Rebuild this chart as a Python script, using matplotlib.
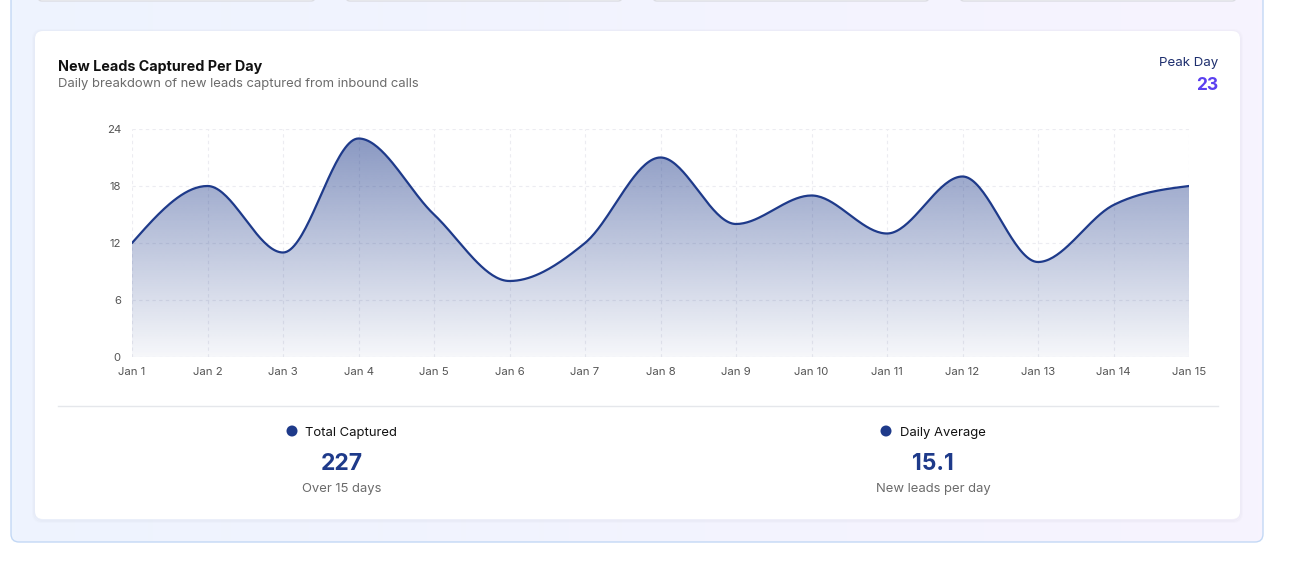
import numpy as np
import matplotlib
matplotlib.use("Agg")
import matplotlib.pyplot as plt
from matplotlib.patches import FancyBboxPatch, Circle
from matplotlib.colors import to_rgb

plt.rcParams['font.family'] = ['Inter', 'DejaVu Sans']

# ---- data ----
days = ["Jan 1", "Jan 2", "Jan 3", "Jan 4", "Jan 5", "Jan 6", "Jan 7", "Jan 8",
        "Jan 9", "Jan 10", "Jan 11", "Jan 12", "Jan 13", "Jan 14", "Jan 15"]
leads = [12, 18, 11, 23, 15, 8, 12, 21, 14, 17, 13, 19, 10, 16, 18]
y_ticks = [0, 6, 12, 18, 24]
total_captured = sum(leads)
daily_avg = total_captured / len(leads)
peak_day = max(leads)

W, H = 1304, 561
fig = plt.figure(figsize=(W / 100, H / 100), dpi=100)
fig.patch.set_facecolor("white")

# ---- background (pixel coordinates) ----
bg = fig.add_axes([0, 0, 1, 1], zorder=-5)
bg.set_xlim(0, W)
bg.set_ylim(H, 0)
bg.axis("off")

panel = FancyBboxPatch((11, -30), 1252, 572, boxstyle="round,pad=0,rounding_size=8",
                       facecolor="none", edgecolor="#c3d8f5", linewidth=1.0, zorder=2)
bg.add_patch(panel)
c1 = np.array(to_rgb("#eef4fe"))
c2 = np.array(to_rgb("#f7f3fe"))
t = np.linspace(0, 1, 256)
grad = (c1[None, :] * (1 - t[:, None]) + c2[None, :] * t[:, None])[None, :, :]
im = bg.imshow(grad, extent=[11, 1263, 542, -30], aspect="auto", zorder=1)
im.set_clip_path(FancyBboxPatch((11, -30), 1252, 572, boxstyle="round,pad=0,rounding_size=8",
                                transform=bg.transData))

# top cards (partially visible)
for x0, x1 in [(38, 315), (346, 622), (653, 929), (960, 1236)]:
    bg.add_patch(FancyBboxPatch((x0, -20), x1 - x0, 21, boxstyle="round,pad=0,rounding_size=4",
                                facecolor="white", edgecolor="#dcdde3", linewidth=1.0, zorder=3))

# main white card with soft shadow
for i, a in enumerate([0.025, 0.02, 0.015]):
    bg.add_patch(FancyBboxPatch((35 - i, 31 - i + 1), 1205 + 2 * i, 488 + 2 * i,
                                boxstyle="round,pad=0,rounding_size=9",
                                facecolor="none", edgecolor=(0.3, 0.3, 0.45, a), linewidth=1.5, zorder=3))
bg.add_patch(FancyBboxPatch((35, 31), 1205, 488, boxstyle="round,pad=0,rounding_size=8",
                            facecolor="white", edgecolor="none", zorder=4))

# separator line
bg.plot([58, 1218], [406, 406], color="#e5e7eb", linewidth=1.0, zorder=5)

# legend dots
bg.add_patch(Circle((292, 431), 5.5, facecolor="#1e3a8a", edgecolor="none", zorder=6))
bg.add_patch(Circle((886, 431), 5.5, facecolor="#1e3a8a", edgecolor="none", zorder=6))


def ftxt(x, y, s, **kw):
    fig.text(x / W, 1 - y / H, s, **kw)


ftxt(58, 67, "New Leads Captured Per Day", fontsize=10.3, fontweight="bold", color="#111111",
     ha="left", va="center")
ftxt(58, 84, "Daily breakdown of new leads captured from inbound calls", fontsize=9.4,
     color="#6b6b6b", ha="left", va="center")
ftxt(1218, 63, "Peak Day", fontsize=9.6, color="#1e2f6e", ha="right", va="center")
ftxt(1218, 86, f"{peak_day}", fontsize=12.5, fontweight="bold", color="#5b40f0", ha="right", va="center")

ftxt(305, 433, "Total Captured", fontsize=9.4, color="#111111", ha="left", va="center")
ftxt(342, 464, f"{total_captured}", fontsize=16.5, fontweight="bold", color="#1e3a8a",
     ha="center", va="center")
ftxt(342, 489, "Over 15 days", fontsize=9.4, color="#6b6b6b", ha="center", va="center")

ftxt(900, 433, "Daily Average", fontsize=9.4, color="#111111", ha="left", va="center")
ftxt(933, 464, f"{daily_avg:.1f}", fontsize=16.5, fontweight="bold", color="#1e3a8a",
     ha="center", va="center")
ftxt(933, 489, "New leads per day", fontsize=9.4, color="#6b6b6b", ha="center", va="center")

# ---- chart axes ----
left, right, top, bottom = 132, 1189, 129, 357
ax = fig.add_axes([left / W, 1 - bottom / H, (right - left) / W, (bottom - top) / H], zorder=5)
ax.set_facecolor("none")

x = np.arange(len(leads), dtype=float)
y = np.array(leads, dtype=float)


def monotone_x(xs, ys, n=40):
    h = np.diff(xs)
    s = np.diff(ys) / h
    m = np.zeros_like(ys)
    for i in range(1, len(ys) - 1):
        h0, h1 = h[i - 1], h[i]
        s0, s1 = s[i - 1], s[i]
        p = (s0 * h1 + s1 * h0) / (h0 + h1)
        m[i] = (np.sign(s0) + np.sign(s1)) * min(abs(s0), abs(s1), 0.5 * abs(p))
    m[0] = (3 * s[0] - m[1]) / 2 if len(ys) > 2 else s[0]
    m[-1] = (3 * s[-1] - m[-2]) / 2 if len(ys) > 2 else s[-1]
    X, Y = [], []
    for i in range(len(ys) - 1):
        tt = np.linspace(0, 1, n, endpoint=(i == len(ys) - 2))
        hh = h[i]
        h00 = 2 * tt**3 - 3 * tt**2 + 1
        h10 = tt**3 - 2 * tt**2 + tt
        h01 = -2 * tt**3 + 3 * tt**2
        h11 = tt**3 - tt**2
        X.append(xs[i] + tt * hh)
        Y.append(h00 * ys[i] + h10 * hh * m[i] + h01 * ys[i + 1] + h11 * hh * m[i + 1])
    return np.concatenate(X), np.concatenate(Y)


xs, ys = monotone_x(x, y)

line_color = "#1e3a8a"
poly = ax.fill_between(xs, ys, 0, facecolor="none", edgecolor="none")
rgb = np.array(to_rgb(line_color))
nrow = 256
alpha = np.linspace(0.52, 0.04, nrow)
img = np.zeros((nrow, 2, 4))
img[:, :, :3] = rgb
img[:, :, 3] = alpha[:, None]
gim = ax.imshow(img, extent=[x[0], x[-1], 0, max(leads)], aspect="auto", origin="upper",
                zorder=1, interpolation="bilinear")
gim.set_clip_path(poly.get_paths()[0], transform=ax.transData)

ax.plot(xs, ys, color=line_color, linewidth=1.6, zorder=3, solid_capstyle="round")

ax.set_xlim(x[0], x[-1])
ax.set_ylim(0, 24)
ax.set_xticks(x)
ax.set_xticklabels(days)
ax.set_yticks(y_ticks)
ax.grid(True, color="#ececf1", linestyle=(0, (3, 3)), linewidth=0.8, zorder=0)
ax.set_axisbelow(True)
for sp in ax.spines.values():
    sp.set_visible(False)
ax.tick_params(axis="both", length=0, labelsize=8.2, colors="#555555")
ax.tick_params(axis="x", pad=7.5)
ax.tick_params(axis="y", pad=8)

fig.savefig("out.png", dpi=100)
